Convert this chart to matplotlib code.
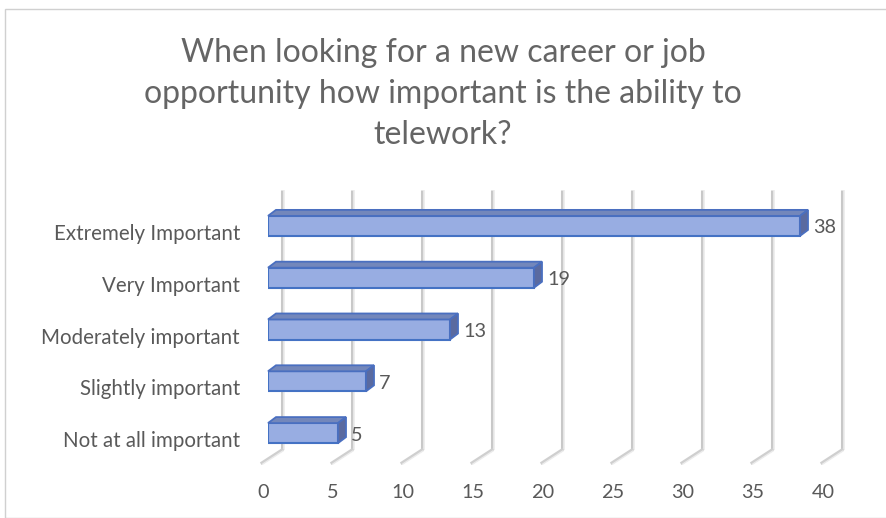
import matplotlib
matplotlib.use("Agg")
import matplotlib.pyplot as plt
import matplotlib.transforms as mtransforms
from matplotlib.patches import Polygon, Rectangle

categories = ["Not at all important", "Slightly important", "Moderately important",
              "Very Important", "Extremely Important"]
values = [5, 7, 13, 19, 38]
xticks = [0, 5, 10, 15, 20, 25, 30, 35, 40]
title = "When looking for a new career or job\nopportunity how important is the ability to\ntelework?"

plt.rcParams['font.family'] = ['Lato', 'DejaVu Sans']
GRAY = "#595959"
FS = 14.3

fig = plt.figure(figsize=(8.86, 5.18), dpi=100)
W, H = 886, 518
# axes: x 0..40 -> px 268..828 ; y -0.5..4.5 -> px 459..200
ax = fig.add_axes([268 / W, 1 - 459 / H, 560 / W, 259 / H])
ax.set_xlim(0, 40)
ax.set_ylim(-0.5, 4.5)
ax.axis("off")
PIX = mtransforms.IdentityTransform()

def off(dx, dy):
    return mtransforms.ScaledTranslation(dx / 100, -dy / 100, fig.dpi_scale_trans)

# chart border
fig.patches.append(Rectangle((5 / W, 0), 1.2, 1 - 9 / H, transform=fig.transFigure,
                             fill=False, edgecolor="#d0d0d0", lw=1.0))

# gridlines (back wall + floor oblique)
blend = mtransforms.blended_transform_factory(ax.transData, ax.transAxes)
for v in xticks:
    ax.plot([v, v], [0.035, 1.04], transform=blend + off(14, 0), color="#c8c8c8",
            lw=2.2, clip_on=False, solid_capstyle="butt", zorder=1)
    ax.plot([v, v], [0.035, 1.04], transform=blend + off(15.5, 0), color="#ececec",
            lw=1.2, clip_on=False, solid_capstyle="butt", zorder=1)
    p_back = (blend + off(14, 0)).transform((v, 0.035))
    p_front = (blend + off(-6, 0)).transform((v, -0.015))
    ax.add_line(plt.Line2D([p_front[0], p_back[0]], [p_front[1], p_back[1]],
                           transform=PIX, color="#cfcfcf", lw=2.2, zorder=1,
                           clip_on=False))
    ax.add_line(plt.Line2D([p_front[0] + 1, p_back[0] + 1], [p_front[1] - 1, p_back[1] - 1],
                           transform=PIX, color="#ececec", lw=1.0, zorder=1,
                           clip_on=False))

# bars
bh = 20 / 51.75
dx, dy = 8, 6
for i, v in enumerate(values):
    y0, y1 = i - bh / 2, i + bh / 2
    tr = ax.transData
    fl = tr.transform((0, y0)); fr = tr.transform((v, y0))
    tl = tr.transform((0, y1)); trr = tr.transform((v, y1))
    top = Polygon([tl, trr, (trr[0] + dx, trr[1] + dy), (tl[0] + dx, tl[1] + dy)],
                  closed=True, transform=PIX, facecolor="#7387bb", edgecolor="#4a6fc0",
                  lw=1.3, zorder=3)
    side = Polygon([fr, trr, (trr[0] + dx, trr[1] + dy), (fr[0] + dx, fr[1] + dy)],
                   closed=True, transform=PIX, facecolor="#5a6aa0", edgecolor="#4a6fc0",
                   lw=1.3, zorder=3)
    fig.patches.append(top)
    fig.patches.append(side)
    ax.barh(i, v, height=bh, left=0, color="#98ade2", edgecolor="#4472c4",
            lw=1.5, zorder=4)
    ax.text(v, i, str(v), transform=ax.transData + off(13, 2), ha="left", va="center",
            fontsize=FS, color=GRAY)
    ax.text(0, i, categories[i], transform=ax.transData + off(-28, 8), ha="right",
            va="center", fontsize=14.8, color=GRAY)

for v in xticks:
    ax.text(v, -0.5, str(v), transform=ax.transData + off(-5, 34), ha="center",
            va="center", fontsize=FS, color=GRAY)

fig.text(443 / W, 1 - 94 / H, title, ha="center", va="center", fontsize=23,
         color="#656565", linespacing=1.47)

fig.savefig("out.png", dpi=100)
